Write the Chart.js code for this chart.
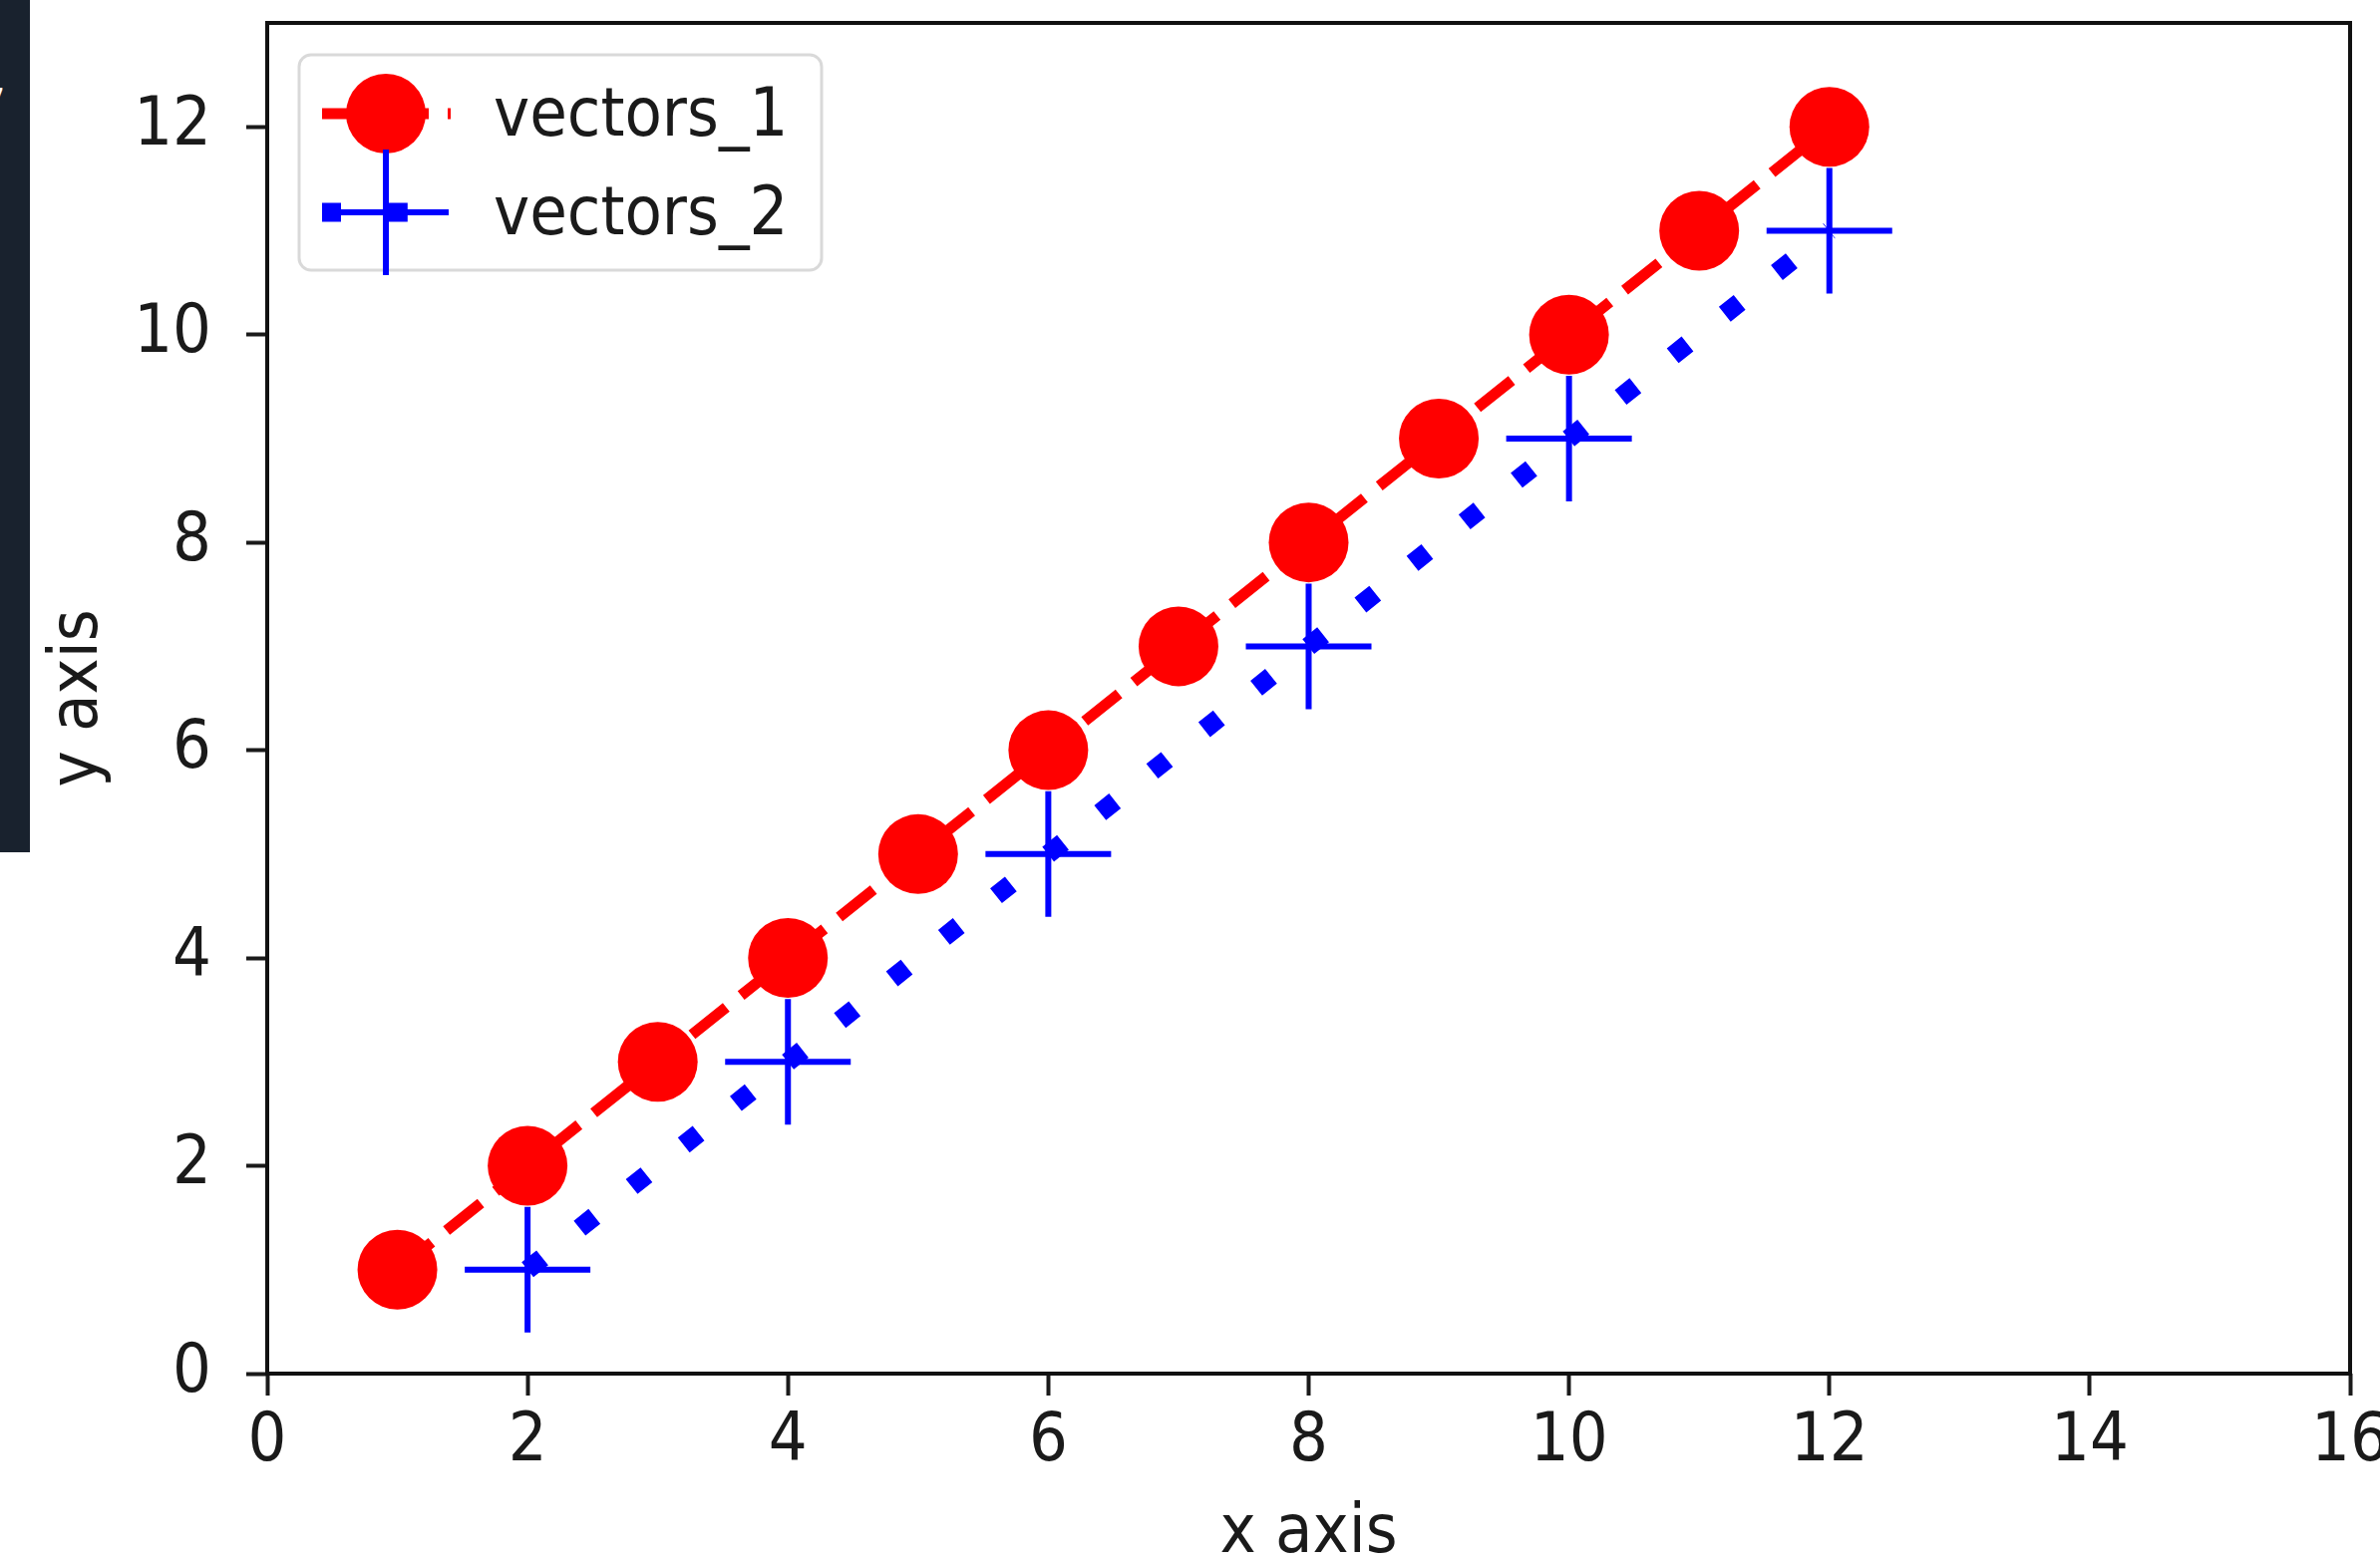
<!DOCTYPE html>
<html><head><meta charset="utf-8">
<script src="https://cdn.jsdelivr.net/npm/chart.js@4.4.0/dist/chart.umd.min.js"></script>
<style>
html,body{margin:0;padding:0;background:#fff;}
#wrap{position:relative;width:2387px;height:1567px;overflow:hidden;background:#fff;}
#panel{position:absolute;left:0;top:0;width:30px;height:855px;background:#19222e;overflow:hidden;z-index:2;}
#panel span{position:absolute;left:-22px;top:80px;color:#fff;font:44px "DejaVu Sans";}
canvas{position:absolute;left:0;top:0;}
</style></head><body>
<div id="wrap"><canvas id="c" width="2387" height="1567"></canvas><div id="panel"><span>7</span></div></div>
<script>
// ---- data ----
const vectors1X = [1, 2, 3, 4, 5, 6, 7, 8, 9, 10, 11, 12];
const vectors1Y = [1, 2, 3, 4, 5, 6, 7, 8, 9, 10, 11, 12];
const vectors2X = [2, 4, 6, 8, 10, 12];
const vectors2Y = [1, 3, 5, 7, 9, 11];
const seriesNames = ['vectors_1', 'vectors_2'];
const xTickValues = [0, 2, 4, 6, 8, 10, 12, 14, 16];
const yTickValues = [0, 2, 4, 6, 8, 10, 12];
const xTitle = 'x axis';
const yTitle = 'y axis';

const FONT = '"DejaVu Sans Condensed", "DejaVu Sans"';
const FSIZE = 68;
const TXT = '#1a1a1a';

const toPts = (xs, ys) => xs.map((x, i) => ({x: x, y: ys[i]}));

const framePlugin = {
  id: 'frame',
  afterDatasetsDraw(chart) {
    const ctx = chart.ctx, a = chart.chartArea;
    ctx.save();
    ctx.strokeStyle = '#111';
    ctx.lineWidth = 4;
    ctx.strokeRect(a.left, a.top, a.right - a.left, a.bottom - a.top);
    ctx.restore();
  }
};

const legendPlugin = {
  id: 'mplLegend',
  afterDraw(chart) {
    const ctx = chart.ctx;
    const ds = chart.data.datasets;
    ctx.save();
    const bx = 300, by = 55, bw = 524, bh = 216, r = 12;
    ctx.beginPath();
    ctx.moveTo(bx + r, by);
    ctx.arcTo(bx + bw, by, bx + bw, by + bh, r);
    ctx.arcTo(bx + bw, by + bh, bx, by + bh, r);
    ctx.arcTo(bx, by + bh, bx, by, r);
    ctx.arcTo(bx, by, bx + bw, by, r);
    ctx.closePath();
    ctx.fillStyle = 'rgba(255,255,255,0.85)';
    ctx.fill();
    ctx.strokeStyle = '#d9d9d9';
    ctx.lineWidth = 3;
    ctx.stroke();

    const x0 = 323, x1 = 452, xm = 387;
    const rows = [114, 213];
    ctx.setLineDash(ds[0].borderDash);
    ctx.lineCap = 'butt';
    ctx.strokeStyle = ds[0].borderColor;
    ctx.lineWidth = ds[0].borderWidth;
    ctx.beginPath(); ctx.moveTo(x0, rows[0]); ctx.lineTo(x1, rows[0]); ctx.stroke();
    ctx.setLineDash([]);
    ctx.fillStyle = ds[0].pointBackgroundColor;
    ctx.beginPath(); ctx.arc(xm, rows[0], ds[0].pointRadius, 0, Math.PI * 2); ctx.fill();
    ctx.setLineDash(ds[1].borderDash);
    ctx.strokeStyle = ds[1].borderColor;
    ctx.lineWidth = ds[1].borderWidth;
    ctx.beginPath(); ctx.moveTo(x0, rows[1]); ctx.lineTo(x1, rows[1]); ctx.stroke();
    ctx.setLineDash([]);
    ctx.lineWidth = ds[1].pointBorderWidth;
    const cr = ds[1].pointRadius;
    ctx.beginPath();
    ctx.moveTo(xm - cr, rows[1]); ctx.lineTo(xm + cr, rows[1]);
    ctx.moveTo(xm, rows[1] - cr); ctx.lineTo(xm, rows[1] + cr);
    ctx.stroke();
    ctx.fillStyle = TXT;
    ctx.font = FSIZE + 'px ' + FONT;
    ctx.textBaseline = 'middle';
    ctx.textAlign = 'left';
    ctx.fillText(ds[0].label, 495, rows[0] + 4);
    ctx.fillText(ds[1].label, 495, rows[1] + 4);
    ctx.restore();
  }
};

const zeroPad = s => { s.paddingLeft = 0; s.paddingRight = 0; s.paddingTop = 0; s.paddingBottom = 0; };

new Chart(document.getElementById('c'), {
  type: 'scatter',
  data: {
    datasets: [
      {
        label: seriesNames[0],
        data: toPts(vectors1X, vectors1Y),
        showLine: true,
        borderColor: '#ff0000',
        backgroundColor: '#ff0000',
        borderWidth: 11,
        borderDash: [44, 19],
        borderCapStyle: 'butt',
        pointStyle: 'circle',
        pointRadius: 40,
        pointBorderWidth: 0,
        pointBackgroundColor: '#ff0000',
        pointBorderColor: '#ff0000',
        order: 1
      },
      {
        label: seriesNames[1],
        data: toPts(vectors2X, vectors2Y),
        showLine: true,
        borderColor: '#0000ff',
        backgroundColor: '#0000ff',
        borderWidth: 19,
        borderDash: [19, 47.8],
        borderCapStyle: 'butt',
        pointStyle: 'cross',
        pointRadius: 63,
        pointBorderWidth: 6,
        pointBackgroundColor: '#0000ff',
        pointBorderColor: '#0000ff',
        order: 0
      }
    ]
  },
  options: {
    responsive: false,
    animation: false,
    events: [],
    devicePixelRatio: 1,
    layout: {autoPadding: false, padding: {left: 0, right: 30, top: 23, bottom: 0}},
    plugins: {legend: {display: false}, tooltip: {enabled: false}},
    scales: {
      x: {
        type: 'linear', min: 0, max: 16,
        afterBuildTicks: s => { s.ticks = xTickValues.map(v => ({value: v})); },
        afterFit: s => { s.height = 189; zeroPad(s); },
        grid: {display: true, drawOnChartArea: false, drawTicks: true, tickLength: 22, tickWidth: 4, tickColor: TXT},
        border: {display: false},
        ticks: {font: {family: FONT, size: FSIZE, lineHeight: 1}, color: TXT, padding: 13, maxRotation: 0, autoSkip: false, callback: v => String(v)},
        title: {display: true, text: xTitle, font: {family: FONT, size: FSIZE, lineHeight: 0.8}, color: TXT, padding: {top: 0, bottom: 0}}
      },
      y: {
        type: 'linear', min: 0, max: 13,
        afterBuildTicks: s => { s.ticks = yTickValues.map(v => ({value: v})); },
        afterFit: s => { s.width = 268; zeroPad(s); },
        grid: {display: true, drawOnChartArea: false, drawTicks: true, tickLength: 21, tickWidth: 4, tickColor: TXT},
        border: {display: false},
        ticks: {font: {family: FONT, size: FSIZE, lineHeight: 1}, color: TXT, padding: 35, autoSkip: false, callback: v => String(v)},
        title: {display: true, text: yTitle, font: {family: FONT, size: FSIZE, lineHeight: 0.8}, color: TXT, padding: {top: 52, bottom: 0}}
      }
    }
  },
  plugins: [framePlugin, legendPlugin]
});
</script>
</body></html>
